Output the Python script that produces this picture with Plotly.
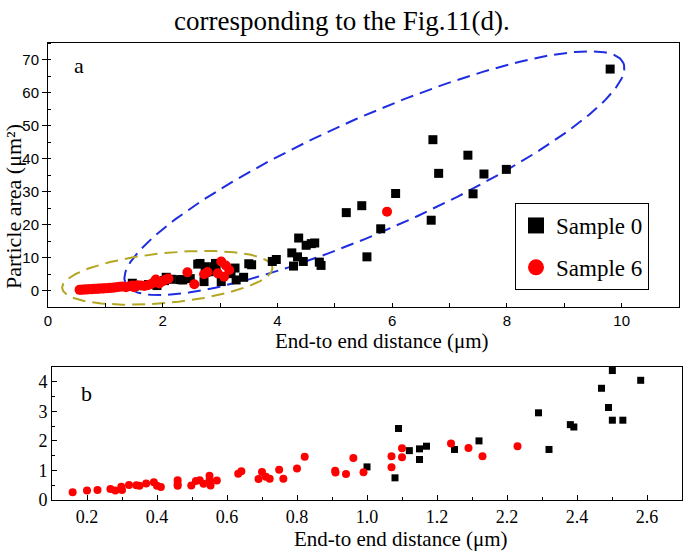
import numpy as np
import plotly.graph_objects as go

# ---------------- data ----------------
title_text = "corresponding to the Fig.11(d)."
x_title = "End-to end distance (μm)"
y_title_a = "Particle area (μm²)"
series_names = ["Sample 0", "Sample 6"]

# Panel a : Sample 0 (black squares)
a_s0_x = [1.47, 1.50, 1.62, 1.75, 1.90, 2.03, 2.06, 2.15, 2.30, 2.35, 2.48, 2.61, 2.65, 2.74, 2.75,
          2.72, 2.81, 2.89, 2.92, 2.93, 3.02, 3.17, 3.19, 3.26, 3.28, 3.41, 3.50, 3.55, 3.91, 3.98,
          4.25, 4.28, 4.35, 4.37, 4.45, 4.50, 4.59, 4.65, 4.73, 4.76, 5.20, 5.47, 5.56, 5.80, 6.06,
          6.68, 6.71, 6.81, 7.32, 7.41, 7.60, 7.99, 9.80]
a_s0_y = [2.2, 1.2, 1.5, 1.8, 1.5, 3.0, 4.0, 3.4, 3.3, 3.2, 3.6, 8.0, 8.2, 7.2, 5.5,
          2.7, 5.7, 7.2, 8.2, 6.2, 2.7, 5.3, 5.1, 6.8, 3.2, 4.0, 8.1, 7.8, 8.8, 9.4,
          11.4, 7.4, 10.2, 15.9, 8.8, 13.7, 14.2, 14.4, 8.6, 7.6, 23.6, 25.7, 10.2, 18.7, 29.4,
          21.3, 45.7, 35.5, 41.0, 29.3, 35.3, 36.7, 67.1]

# Panel a : Sample 6 (red circles)
a_s6_x = [0.55, 0.58, 0.62, 0.65, 0.68, 0.71, 0.74, 0.77, 0.80, 0.84, 0.87, 0.90, 0.94, 0.97,
          1.00, 1.04, 1.08, 1.12, 1.16, 1.20, 1.25, 1.30, 1.36, 1.42, 1.47, 1.50, 1.56, 1.62,
          1.68, 1.74, 1.80, 1.85, 1.88, 1.94, 2.00, 2.05, 2.10, 2.43, 2.55, 2.72, 2.78, 2.96,
          3.02, 3.07, 3.10, 3.16, 5.91]
a_s6_y = [0.2, 0.2, 0.3, 0.3, 0.3, 0.4, 0.4, 0.4, 0.5, 0.5, 0.5, 0.6, 0.6, 0.6,
          0.7, 0.7, 0.8, 0.8, 0.9, 1.0, 1.1, 1.2, 1.0, 1.3, 1.5, 1.0, 1.6, 1.5,
          1.4, 1.6, 2.0, 2.6, 3.3, 2.1, 2.8, 3.3, 3.6, 5.5, 1.9, 4.9, 5.6, 5.2,
          8.8, 4.2, 7.6, 6.2, 23.9]

# Panel b : Sample 0 (black squares) - x in axis position units
b_s0_x = [1.00, 1.08, 1.09, 1.121, 1.15, 1.15, 1.17, 1.25, 1.32, 1.49, 1.52, 1.581, 1.591,
          1.67, 1.69, 1.701, 1.701, 1.731, 1.782]
b_s0_y = [1.12, 0.75, 2.42, 1.67, 1.73, 1.37, 1.82, 1.71, 2.00, 2.95, 1.71, 2.55, 2.47,
          3.78, 3.13, 4.38, 2.70, 2.70, 4.05]

# Panel b : Sample 6 (red circles)
b_s6_x = [0.159, 0.200, 0.230, 0.267, 0.281, 0.298, 0.300, 0.320, 0.341, 0.350, 0.369, 0.391,
          0.400, 0.411, 0.459, 0.459, 0.459, 0.498, 0.511, 0.522, 0.533, 0.550, 0.550, 0.553,
          0.571, 0.632, 0.641, 0.690, 0.700, 0.711, 0.722, 0.749, 0.761, 0.800, 0.822, 0.909,
          0.910, 0.940, 0.961, 0.990, 1.070, 1.070, 1.100, 1.100, 1.240, 1.290, 1.330, 1.430]
b_s6_y = [0.26, 0.32, 0.34, 0.37, 0.32, 0.45, 0.34, 0.51, 0.50, 0.48, 0.56, 0.60,
          0.48, 0.44, 0.67, 0.54, 0.48, 0.49, 0.64, 0.67, 0.55, 0.82, 0.67, 0.49,
          0.66, 0.89, 0.97, 0.71, 0.95, 0.79, 0.72, 1.02, 0.72, 1.07, 1.46, 0.99,
          0.93, 0.88, 1.42, 0.94, 1.48, 1.11, 1.75, 1.45, 1.91, 1.76, 1.48, 1.82]

# Tick labels
a_xticks = [0, 2, 4, 6, 8, 10]
a_yticks = [0, 10, 20, 30, 40, 50, 60, 70]
b_xtickvals = [0.2, 0.4, 0.6, 0.8, 1.0, 1.2, 1.4, 1.6, 1.8]
b_xticktext = ["0.2", "0.4", "0.6", "0.8", "1.0", "1.2", "2.2", "2.4", "2.6"]
b_yticks = [0, 1, 2, 3, 4]

# ---------------- style ----------------
SERIF = "Liberation Serif, Times New Roman, serif"
SANS = "Liberation Sans, Arial, sans-serif"
W, H = 685, 553
BLUE = "#1f2de0"
OLIVE = "#b3a623"


def px_x(p):
    return p / W


def px_y(p):
    return 1 - p / H


def ellipse(c, u, v, n=300):
    t = np.linspace(0, 2 * np.pi, n)
    return (c[0] + u[0] * np.cos(t) + v[0] * np.sin(t),
            c[1] + u[1] * np.cos(t) + v[1] * np.sin(t))


fig = go.Figure()

# Ellipses (panel a decorations): centre and two conjugate half-axis vectors
ex, ey = ellipse((5.69, 35.56), (4.339, 33.42), (-0.405, 15.73))
fig.add_trace(go.Scatter(x=ex, y=ey, mode="lines", line=dict(color=BLUE, width=2, dash="13px,7px"),
                         hoverinfo="skip", showlegend=False, xaxis="x", yaxis="y"))
ex, ey = ellipse((2.08, 3.84), (1.833, 3.13), (-0.043, 7.53))
fig.add_trace(go.Scatter(x=ex, y=ey, mode="lines", line=dict(color=OLIVE, width=2, dash="13px,7px"),
                         hoverinfo="skip", showlegend=False, xaxis="x", yaxis="y"))

# Panel a
fig.add_trace(go.Scatter(x=a_s0_x, y=a_s0_y, mode="markers", name=series_names[0],
                         marker=dict(symbol="square", size=9, color="black"),
                         showlegend=False, xaxis="x", yaxis="y"))
fig.add_trace(go.Scatter(x=a_s6_x, y=a_s6_y, mode="markers", name=series_names[1],
                         marker=dict(symbol="circle", size=10, color="red"),
                         showlegend=False, xaxis="x", yaxis="y"))

# Legend entries
fig.add_trace(go.Scatter(x=[None], y=[None], mode="markers", name=series_names[0],
                         marker=dict(symbol="square", size=18, color="black"),
                         legendgroup="g0", xaxis="x", yaxis="y"))
fig.add_trace(go.Scatter(x=[None], y=[None], mode="markers", name=series_names[1],
                         marker=dict(symbol="circle", size=18, color="red"),
                         legendgroup="g1", xaxis="x", yaxis="y"))

# Panel b
fig.add_trace(go.Scatter(x=b_s0_x, y=b_s0_y, mode="markers", name=series_names[0],
                         marker=dict(symbol="square", size=7, color="black"),
                         showlegend=False, xaxis="x2", yaxis="y2"))
fig.add_trace(go.Scatter(x=b_s6_x, y=b_s6_y, mode="markers", name=series_names[1],
                         marker=dict(symbol="circle", size=8, color="red"),
                         showlegend=False, xaxis="x2", yaxis="y2"))

axis_common = dict(showline=True, linecolor="black", linewidth=1, mirror=True,
                   showgrid=False, zeroline=False, automargin=False)


def label(text, x, y, size, angle=0):
    return dict(text=text, x=px_x(x), y=px_y(y), xref="paper", yref="paper",
                xanchor="center", yanchor="middle", showarrow=False, textangle=angle,
                font=dict(family=SERIF, size=size, color="black"))


fig.update_layout(
    width=W, height=H,
    margin=dict(l=0, r=0, t=0, b=0),
    paper_bgcolor="white", plot_bgcolor="white",
    font=dict(family=SERIF, color="black"),
    xaxis=dict(domain=[px_x(48), px_x(679)], anchor="y", range=[0, 11],
               tickvals=a_xticks, ticks="inside", ticklen=4, tickcolor="black",
               minor=dict(dtick=1, ticks="inside", ticklen=4, tickcolor="black"),
               tickfont=dict(family=SANS, size=15), **axis_common),
    yaxis=dict(domain=[px_y(307), px_y(43)], anchor="x", range=[-5, 75],
               tickvals=a_yticks, ticks="outside", ticklen=5, tickcolor="black",
               minor=dict(dtick=5, tick0=5, ticks="inside", ticklen=3, tickcolor="black"),
               tickfont=dict(family=SANS, size=15), **axis_common),
    xaxis2=dict(domain=[px_x(52), px_x(682)], anchor="y2", range=[0.1, 1.9],
                tickvals=b_xtickvals, ticktext=b_xticktext, ticks="inside", ticklen=5,
                tickcolor="black",
                minor=dict(dtick=0.1, tick0=0.1, ticks="inside", ticklen=3, tickcolor="black"),
                tickfont=dict(family=SERIF, size=18), **axis_common),
    yaxis2=dict(domain=[px_y(500), px_y(367)], anchor="x2", range=[0, 4.5],
                tickvals=b_yticks, ticks="inside", ticklen=5, tickcolor="black",
                minor=dict(dtick=0.5, ticks="inside", ticklen=3, tickcolor="black"),
                tickfont=dict(family=SERIF, size=18), **axis_common),
    legend=dict(x=px_x(515), y=px_y(203), xanchor="left", yanchor="top",
                bordercolor="black", borderwidth=1, bgcolor="white",
                font=dict(family=SERIF, size=23, color="black"),
                traceorder="grouped", tracegroupgap=9, itemwidth=30),
    showlegend=True,
    annotations=[
        label(title_text, 342, 21, 27),
        label(x_title, 382, 341, 21),
        label(y_title_a, 13, 207, 22, -90),
        label(x_title, 401, 539, 21),
        label("a", 79, 66, 22),
        label("b", 86, 393, 22),
    ],
)

fig.write_html("out.html", post_script="document.body.style.margin='0';",
               config={"displayModeBar": False})
